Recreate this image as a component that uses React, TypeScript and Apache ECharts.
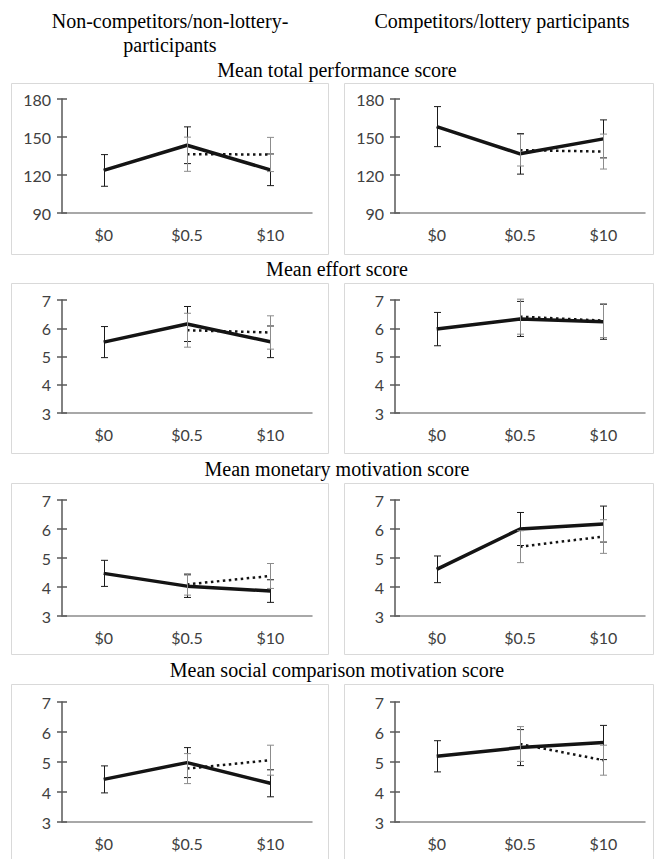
import React, { useEffect, useRef } from "react";
import * as echarts from "echarts";

const categories = ["$0", "$0.5", "$10"];

const headerLeft = ["Non-competitors/non-lottery-", "participants"];
const headerRight = "Competitors/lottery participants";
const rowTitles = [
  "Mean total performance score",
  "Mean effort score",
  "Mean monetary motivation score",
  "Mean social comparison motivation score",
];

// Performance
const perfNonSolid = [123.6, 143.5, 124.1];
const perfNonSolidErr = [12.5, 14.5, 12.5];
const perfNonDotted = [null, 136.4, 136.2];
const perfNonDottedErr = [null, 13.5, 13.5];
const perfCompSolid = [158.2, 136.7, 148.5];
const perfCompSolidErr = [15.8, 16, 15];
const perfCompDotted = [null, 139.6, 138.5];
const perfCompDottedErr = [null, 12.5, 13.8];

// Effort
const effNonSolid = [5.51, 6.15, 5.52];
const effNonSolidErr = [0.55, 0.62, 0.56];
const effNonDotted = [null, 5.93, 5.85];
const effNonDottedErr = [null, 0.6, 0.59];
const effCompSolid = [5.97, 6.33, 6.23];
const effCompSolidErr = [0.59, 0.62, 0.62];
const effCompDotted = [null, 6.41, 6.27];
const effCompDottedErr = [null, 0.62, 0.6];

// Monetary motivation
const monNonSolid = [4.47, 4.03, 3.86];
const monNonSolidErr = [0.45, 0.39, 0.39];
const monNonDotted = [null, 4.09, 4.38];
const monNonDottedErr = [null, 0.37, 0.43];
const monCompSolid = [4.61, 6.0, 6.17];
const monCompSolidErr = [0.46, 0.57, 0.62];
const monCompDotted = [null, 5.39, 5.74];
const monCompDottedErr = [null, 0.55, 0.58];

// Social comparison motivation
const socNonSolid = [4.42, 4.98, 4.29];
const socNonSolidErr = [0.45, 0.5, 0.45];
const socNonDotted = [null, 4.78, 5.06];
const socNonDottedErr = [null, 0.5, 0.5];
const socCompSolid = [5.19, 5.48, 5.65];
const socCompSolidErr = [0.52, 0.6, 0.57];
const socCompDotted = [null, 5.6, 5.06];
const socCompDottedErr = [null, 0.58, 0.5];

const perfTicks = { min: 90, max: 180, interval: 30 };
const scoreTicks = { min: 3, max: 7, interval: 1 };

type Panel = {
  solid: (number | null)[];
  solidErr: (number | null)[];
  dotted: (number | null)[];
  dottedErr: (number | null)[];
};

const panels: Panel[][] = [
  [
    { solid: perfNonSolid, solidErr: perfNonSolidErr, dotted: perfNonDotted, dottedErr: perfNonDottedErr },
    { solid: perfCompSolid, solidErr: perfCompSolidErr, dotted: perfCompDotted, dottedErr: perfCompDottedErr },
  ],
  [
    { solid: effNonSolid, solidErr: effNonSolidErr, dotted: effNonDotted, dottedErr: effNonDottedErr },
    { solid: effCompSolid, solidErr: effCompSolidErr, dotted: effCompDotted, dottedErr: effCompDottedErr },
  ],
  [
    { solid: monNonSolid, solidErr: monNonSolidErr, dotted: monNonDotted, dottedErr: monNonDottedErr },
    { solid: monCompSolid, solidErr: monCompSolidErr, dotted: monCompDotted, dottedErr: monCompDottedErr },
  ],
  [
    { solid: socNonSolid, solidErr: socNonSolidErr, dotted: socNonDotted, dottedErr: socNonDottedErr },
    { solid: socCompSolid, solidErr: socCompSolidErr, dotted: socCompDotted, dottedErr: socCompDottedErr },
  ],
];

const rowScales = [perfTicks, scoreTicks, scoreTicks, scoreTicks];

// layout
const rowAxes = [
  { top: 99, bottom: 213 },
  { top: 300, bottom: 413 },
  { top: 500, bottom: 616 },
  { top: 702, bottom: 822 },
];
const colAxes = [
  { left: 62, right: 312 },
  { left: 395, right: 645 },
];
const rowBoxes = [
  { top: 83, bottom: 254 },
  { top: 283, bottom: 453 },
  { top: 483, bottom: 654 },
  { top: 684, bottom: 862 },
];
const colBoxes = [
  { left: 11, right: 328 },
  { left: 344, right: 653 },
];
const titleY = [70, 269, 469, 670];

const SERIF = "'Liberation Serif', 'Times New Roman', serif";
const SANS = "Lato, 'Open Sans', sans-serif";

function errData(vals: (number | null)[], errs: (number | null)[]) {
  const out: number[][] = [];
  vals.forEach((v, i) => {
    const e = errs[i];
    if (v != null && e != null) out.push([i, v - e, v + e]);
  });
  return out;
}

function errRender(color: string) {
  return (params: any, api: any) => {
    const x = api.value(0);
    const lo = api.coord([x, api.value(1)]);
    const hi = api.coord([x, api.value(2)]);
    const cx = Math.round(lo[0]) + 0.5;
    const w = 3.5;
    const style = { stroke: color, lineWidth: 1 };
    return {
      type: "group",
      children: [
        { type: "line", shape: { x1: cx, y1: hi[1], x2: cx, y2: lo[1] }, style },
        { type: "line", shape: { x1: cx - w, y1: hi[1], x2: cx + w, y2: hi[1] }, style },
        { type: "line", shape: { x1: cx - w, y1: lo[1], x2: cx + w, y2: lo[1] }, style },
      ],
    };
  };
}

export default function App() {
  const ref = useRef<HTMLDivElement>(null);
  useEffect(() => {
    document.body.style.margin = "0";
    if (!ref.current) return;
    const chart = echarts.init(ref.current, null, { renderer: "svg" });

    const grid: any[] = [];
    const xAxis: any[] = [];
    const yAxis: any[] = [];
    const series: any[] = [];
    const graphic: any[] = [];

    // boxes
    rowBoxes.forEach((rb) => {
      colBoxes.forEach((cb) => {
        graphic.push({
          type: "rect",
          shape: { x: cb.left + 0.5, y: rb.top + 0.5, width: cb.right - cb.left, height: rb.bottom - rb.top },
          style: { fill: "none", stroke: "#d9d9d9", lineWidth: 1 },
          z: 0,
        });
      });
    });

    // header texts
    graphic.push({
      type: "text",
      style: { text: headerLeft[0], x: 170, y: 21, fill: "#000", font: `20px ${SERIF}`, textAlign: "center", textVerticalAlign: "middle" },
    });
    graphic.push({
      type: "text",
      style: { text: headerLeft[1], x: 170, y: 45, fill: "#000", font: `20px ${SERIF}`, textAlign: "center", textVerticalAlign: "middle" },
    });
    graphic.push({
      type: "text",
      style: { text: headerRight, x: 502, y: 21, fill: "#000", font: `20px ${SERIF}`, textAlign: "center", textVerticalAlign: "middle" },
    });
    rowTitles.forEach((t, r) => {
      graphic.push({
        type: "text",
        style: { text: t, x: 337, y: titleY[r], fill: "#000", font: `20px ${SERIF}`, textAlign: "center", textVerticalAlign: "middle" },
      });
    });

    let gi = 0;
    rowAxes.forEach((ra, r) => {
      colAxes.forEach((ca, c) => {
        const p = panels[r][c];
        const sc = rowScales[r];
        grid.push({
          left: ca.left,
          top: ra.top,
          width: ca.right - ca.left,
          height: ra.bottom - ra.top,
        });
        xAxis.push({
          type: "category",
          gridIndex: gi,
          data: categories,
          boundaryGap: true,
          axisLine: { show: true, lineStyle: { color: "#8c8c8c", width: 1.5 } },
          axisTick: { show: false },
          axisLabel: { fontFamily: SANS, fontSize: 16, color: "#404040", margin: 13 },
          splitLine: { show: false },
        });
        yAxis.push({
          type: "value",
          gridIndex: gi,
          position: "left",
          min: sc.min,
          max: sc.max,
          interval: sc.interval,
          axisLine: { show: true, lineStyle: { color: "#595959", width: 1.5 } },
          axisTick: { show: true, length: 5, lineStyle: { color: "#595959", width: 1.5 } },
          axisLabel: { fontFamily: SANS, fontSize: 16, color: "#404040", margin: 11 },
          splitLine: { show: false },
        });
        const yMain = yAxis.length - 1;
        yAxis.push({
          type: "value",
          gridIndex: gi,
          position: "left",
          offset: 0,
          min: sc.min,
          max: sc.max,
          interval: sc.interval,
          axisLine: { show: false },
          axisTick: { show: true, inside: true, length: 5, lineStyle: { color: "#595959", width: 1.5 } },
          axisLabel: { show: false },
          splitLine: { show: false },
        });

        series.push({
          type: "line",
          xAxisIndex: gi,
          yAxisIndex: yMain,
          data: p.solid,
          showSymbol: false,
          lineStyle: { color: "#141414", width: 3.5 },
          z: 3,
        });
        series.push({
          type: "custom",
          xAxisIndex: gi,
          yAxisIndex: yMain,
          data: errData(p.solid, p.solidErr),
          encode: { x: 0, y: [1, 2] },
          renderItem: errRender("#1a1a1a"),
          z: 4,
        });
        series.push({
          type: "line",
          xAxisIndex: gi,
          yAxisIndex: yMain,
          data: p.dotted,
          showSymbol: false,
          lineStyle: { color: "#141414", width: 2.5, type: [2.5, 3.5] },
          z: 5,
        });
        series.push({
          type: "custom",
          xAxisIndex: gi,
          yAxisIndex: yMain,
          data: errData(p.dotted, p.dottedErr),
          encode: { x: 0, y: [1, 2] },
          renderItem: errRender("#8c8c8c"),
          z: 6,
        });
        gi++;
      });
    });

    chart.setOption({
      animation: false,
      backgroundColor: "#ffffff",
      grid,
      xAxis,
      yAxis,
      series,
      graphic,
    });
    return () => chart.dispose();
  }, []);

  return <div ref={ref} style={{ width: 655, height: 859 }} />;
}
